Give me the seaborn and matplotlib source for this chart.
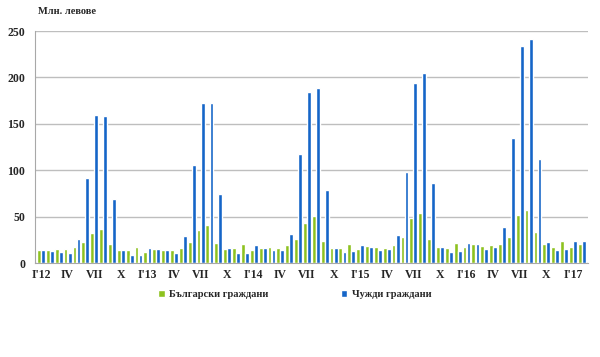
import numpy as np
import pandas as pd
import matplotlib
matplotlib.use('Agg')
import matplotlib.pyplot as plt
import seaborn as sns

# ---- данни (млн. лева), I.2012 - II.2017 ----
years = ['12', '13', '14', '15', '16', '17']
roman = ['I', 'II', 'III', 'IV', 'V', 'VI', 'VII', 'VIII', 'IX', 'X', 'XI', 'XII']

bulgarians = [
    13.6, 13.6, 15.4, 15.4, 17.0, 22.5, 32.5, 37.0, 20.4, 14.6, 14.3, 17.0,   # 2012
    12.5, 15.4, 14.3, 13.6, 16.0, 22.5, 36.0, 41.0, 21.4, 15.4, 16.0, 20.7,   # 2013
    14.6, 16.0, 17.0, 16.0, 19.0, 26.0, 43.0, 51.0, 23.6, 16.0, 16.0, 20.7,   # 2014
    15.4, 18.2, 17.0, 16.8, 19.0, 28.0, 48.6, 54.0, 26.0, 17.0, 16.0, 21.4,   # 2015
    17.0, 20.7, 17.9, 19.6, 20.7, 28.6, 52.0, 57.0, 34.0, 20.7, 17.0, 24.3,   # 2016
    17.0, 20.7,                                                               # 2017
]
foreigners = [
    14.3, 12.9, 11.8, 11.4, 26.0, 92.0, 159.5, 158.5, 68.6, 14.3, 9.0, 9.0,
    16.0, 15.4, 14.3, 10.7, 29.6, 106.0, 173.0, 172.0, 74.5, 16.0, 10.7, 10.7,
    19.0, 16.0, 14.6, 14.3, 31.0, 118.0, 184.5, 188.5, 78.5, 16.8, 11.8, 12.9,
    19.0, 17.5, 14.6, 15.4, 30.7, 98.0, 194.5, 204.5, 86.0, 17.0, 11.8, 12.9,
    21.4, 20.7, 15.4, 17.0, 38.6, 135.0, 234.0, 241.0, 112.0, 22.5, 14.3, 15.4,
    23.6, 23.6,
]

months = []
for y in years:
    for m in roman:
        months.append(m + ' ' + y)
months = months[:len(bulgarians)]

# подписи по оста x - всеки трети месец
tick_labels = []
for i, m in enumerate(months):
    r, y = m.split()
    if r == 'I':
        tick_labels.append("I'" + y)
    elif r in ('IV', 'VII', 'X'):
        tick_labels.append(r)
    else:
        tick_labels.append('')

lbl_bg = 'Български граждани'
lbl_fr = 'Чужди граждани'
df = pd.DataFrame({
    'month': months * 2,
    'value': bulgarians + foreigners,
    'group': [lbl_bg] * len(months) + [lbl_fr] * len(months),
})

sns.set_style('white')
plt.rcParams['font.family'] = ['Liberation Serif', 'DejaVu Serif']
plt.rcParams['font.weight'] = 'bold'

fig = plt.figure(figsize=(6, 3.57), dpi=100)
ax = fig.add_axes([0.058, 0.263, 0.922, 0.65])

sns.barplot(data=df, x='month', y='value', hue='group', order=months,
            palette=['#8DC21F', '#1565C8'], width=0.92, gap=0.06,
            saturation=1, ax=ax, legend=True)

ax.set_ylim(0, 250)
ax.set_yticks(range(0, 251, 50))
ax.set_xlim(-0.7, len(months) - 0.3)
ax.set_xticks(range(len(months)))
ax.set_xticklabels(tick_labels, fontsize=8.5, fontweight='bold')
ax.tick_params(axis='y', labelsize=8.5, length=3, color='#A0A0A0', pad=4)
ax.tick_params(axis='x', length=0, pad=4)
for t in ax.get_yticklabels():
    t.set_fontweight('bold')
ax.set_xlabel('')
ax.set_ylabel('')
ax.yaxis.grid(True, color='#BEBEBE', linewidth=1)
ax.set_axisbelow(True)
for s in ['top', 'right']:
    ax.spines[s].set_visible(False)
for s in ['left', 'bottom']:
    ax.spines[s].set_color('#A8A8A8')

ax.text(0.005, 1.065, 'Млн. левове', transform=ax.transAxes,
        fontsize=7.5, fontweight='bold', ha='left', va='bottom')

h, l = ax.get_legend_handles_labels()
ax.legend(h, l, loc='upper center', bbox_to_anchor=(0.47, -0.075), ncol=2,
          frameon=False, handlelength=0.6, handleheight=0.6,
          columnspacing=7, handletextpad=0.4, prop={'weight': 'bold', 'size': 7.5})

fig.savefig('out.png', dpi=100)
